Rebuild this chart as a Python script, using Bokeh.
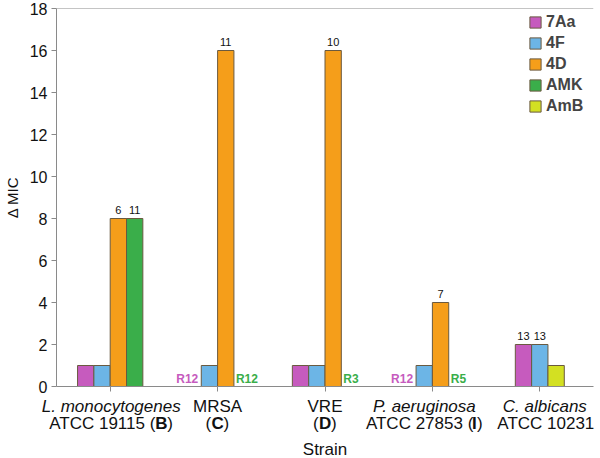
from bokeh.plotting import figure
from bokeh.layouts import column
from bokeh.models import ColumnDataSource, Legend, LegendItem, Span, FixedTicker, Range1d
from bokeh.core.properties import value
from bokeh.embed import file_html
from bokeh.resources import INLINE

# ---------------- data ----------------
strain_names = ["L. monocytogenes", "MRSA", "VRE", "P. aeruginosa", "C. albicans"]
strain_sub_pre = ["ATCC 19115 (", "(", "(", "ATCC 27853 (", "ATCC 10231"]
strain_sub_bold = ["B", "C", "D", "I", ""]
strain_sub_post = [")", ")", ")", ")", ""]
series = ["7Aa", "4F", "4D", "AMK", "AmB"]

mic_7Aa = [1, 0, 1, 0, 2]
mic_4F = [1, 1, 1, 1, 2]
mic_4D = [8, 16, 16, 4, None]
mic_AMK = [8, 0, 0, 0, None]
mic_AmB = [None, None, None, None, 1]

note_7Aa = ["", "R12", "", "R12", "13"]
note_4F = ["", "", "", "", "13"]
note_4D = ["6", "11", "10", "7", ""]
note_AMK = ["11", "R12", "R3", "R5", ""]
note_AmB = ["", "", "", "", ""]

y_ticks = [0, 2, 4, 6, 8, 10, 12, 14, 16, 18]

# ---------------- styles ----------------
FONT = "Liberation Sans"
colors = ["#C65BBE", "#6CB5E6", "#F59E1A", "#3AAE4A", "#D3E022"]
italic_names = [True, False, False, True, True]
label_nudge_px = [1, 0, 0, -8, 5]
bar_w = 0.152
axis_gray = "#8a8a8a"
TXT = "#111111"

values = [mic_7Aa, mic_4F, mic_4D, mic_AMK, mic_AmB]
notes = [note_7Aa, note_4F, note_4D, note_AMK, note_AmB]
n_strains = len(strain_names)

# slot offsets: bars present in each strain group are centred on the tick
offsets = [[None] * n_strains for _ in series]
for i in range(n_strains):
    present = [k for k in range(len(series)) if values[k][i] is not None]
    m = len(present)
    for j, k in enumerate(present):
        offsets[k][i] = (j - (m - 1) / 2) * bar_w

W = 600
LEFT, RIGHT = 56, 7
X0, X1 = -0.5, 4.5
p = figure(width=W, height=396, x_range=(X0, X1), y_range=(0, 18),
           output_backend="svg", toolbar_location=None,
           min_border_left=LEFT, min_border_right=RIGHT, min_border_top=8, min_border_bottom=10)
p.frame_align = False
p.outline_line_color = None
p.xgrid.grid_line_color = None
p.ygrid.grid_line_color = None

items = []
for k, name in enumerate(series):
    xs, tops = [], []
    nx_num, ny_num, nt_num = [], [], []
    for i in range(n_strains):
        v = values[k][i]
        if v is None:
            continue
        x = i + offsets[k][i]
        if v > 0:
            xs.append(x)
            tops.append(v)
        t = notes[k][i]
        if t:
            if t.startswith("R"):
                anchor_left = k < 2
                p.text(x=[x + (bar_w / 2 if anchor_left else -bar_w / 2)], y=[0], text=[t],
                       text_align="right" if anchor_left else "left",
                       text_baseline="alphabetic",
                       x_offset=-3 if anchor_left else 2, y_offset=-8,
                       text_font=value(FONT), text_font_size="12px",
                       text_font_style="bold", text_color=colors[k])
            else:
                nx_num.append(x)
                ny_num.append(v)
                nt_num.append(t)
    src = ColumnDataSource(dict(x=xs, top=tops))
    r = p.vbar(x="x", top="top", bottom=0, width=bar_w, source=src,
               fill_color=colors[k], line_color="#6a5a40", line_width=1)
    items.append(LegendItem(label=name, renderers=[r]))
    if nt_num:
        p.text(x=nx_num, y=ny_num, text=nt_num, text_align="center",
               text_baseline="alphabetic", y_offset=-9,
               text_font=value(FONT), text_font_size="11px", text_color=TXT)

legend = Legend(items=items, location=(472, 271))
legend.border_line_color = None
legend.background_fill_alpha = 0
legend.label_text_font = FONT
legend.label_text_font_style = "bold"
legend.label_text_font_size = "16px"
legend.glyph_width = 14
legend.glyph_height = 14
legend.label_height = 16
legend.spacing = 3
legend.padding = 4
legend.margin = 0
legend.label_standoff = 4
p.add_layout(legend)

p.add_layout(Span(location=18, dimension="width", line_color=axis_gray, line_width=1))

# axes
p.yaxis.ticker = FixedTicker(ticks=y_ticks)
p.yaxis.major_label_text_font = FONT
p.yaxis.major_label_text_font_size = "16px"
p.yaxis.major_label_text_color = TXT
p.yaxis.major_tick_out = 5
p.yaxis.major_tick_in = 0
p.yaxis.minor_tick_out = 0
p.yaxis.minor_tick_in = 0
p.yaxis.major_label_standoff = 4
p.yaxis.axis_label = "Δ MIC"
p.yaxis.axis_label_text_font = FONT
p.yaxis.axis_label_text_font_size = "15px"
p.yaxis.axis_label_text_font_style = "normal"
p.yaxis.axis_label_text_color = TXT
p.yaxis.axis_label_standoff = 6

p.xaxis.ticker = FixedTicker(ticks=list(range(n_strains)))
p.xaxis.major_label_overrides = {i: "" for i in range(n_strains)}
p.xaxis.major_label_text_font_size = "4px"
p.xaxis.major_label_standoff = 0
p.xaxis.major_tick_out = 5
p.xaxis.major_tick_in = 0
p.xaxis.minor_tick_out = 0
p.xaxis.minor_tick_in = 0

for ax in (p.xaxis, p.yaxis):
    ax.axis_line_color = axis_gray
    ax.major_tick_line_color = axis_gray

# ---------------- category labels strip under the axis ----------------
# full-width strip; its x range continues the main plot's scale into the margins
H2 = 62
units_per_px = (X1 - X0) / (W - LEFT - RIGHT)
q = figure(width=W, height=H2,
           x_range=Range1d(X0 - LEFT * units_per_px, X1 + RIGHT * units_per_px),
           y_range=Range1d(H2, 0),
           output_backend="svg", toolbar_location=None,
           x_axis_location=None, y_axis_location=None,
           min_border_left=0, min_border_right=0, min_border_top=0, min_border_bottom=0)
q.frame_align = False
q.outline_line_color = None
q.xgrid.grid_line_color = None
q.ygrid.grid_line_color = None

REG = {"A": 667, "T": 611, "C": 722, " ": 278, "(": 333, ")": 333, "I": 278}
BOLD = {"B": 722, "C": 722, "D": 722, "I": 278}
LBL_SIZE = 17
LINE1_Y, LINE2_Y, TITLE_Y = 10, 27, 53


def text_w(s, table):
    # hinted advances are whole pixels
    return sum(round(table.get(c, 556) * LBL_SIZE / 1000.0) for c in s)


for style in ("italic", "normal"):
    idx = [i for i in range(n_strains) if (italic_names[i]) == (style == "italic")]
    q.text(x=idx, y=[LINE1_Y] * len(idx), text=[strain_names[i] for i in idx],
           x_offset=[label_nudge_px[i] for i in idx],
           text_align="center", text_baseline="alphabetic",
           text_font=value(FONT), text_font_size=f"{LBL_SIZE}px",
           text_font_style=style, text_color=TXT)

pieces = {"normal": dict(x=[], t=[], off=[]), "bold": dict(x=[], t=[], off=[])}
for i in range(n_strains):
    parts = [(strain_sub_pre[i], "normal", REG), (strain_sub_bold[i], "bold", BOLD),
             (strain_sub_post[i], "normal", REG)]
    total = sum(text_w(s, t) for s, _, t in parts)
    xo = -total / 2 + label_nudge_px[i]
    for s, style, t in parts:
        if s:
            pieces[style]["x"].append(i)
            pieces[style]["t"].append(s)
            pieces[style]["off"].append(xo)
        xo += text_w(s, t)

for style, d in pieces.items():
    src = ColumnDataSource(dict(x=d["x"], y=[LINE2_Y] * len(d["x"]), text=d["t"], off=d["off"]))
    q.text(x="x", y="y", text="text", x_offset="off", source=src,
           text_align="left", text_baseline="alphabetic",
           text_font=value(FONT), text_font_size=f"{LBL_SIZE}px",
           text_font_style=style, text_color=TXT)

q.text(x=[(n_strains - 1) / 2], y=[TITLE_Y], text=["Strain"], text_align="center",
       text_baseline="alphabetic", text_font=value(FONT), text_font_size="17px",
       text_color=TXT)

layout = column(p, q, spacing=0)
open("out.html", "w").write(file_html(layout, INLINE))
